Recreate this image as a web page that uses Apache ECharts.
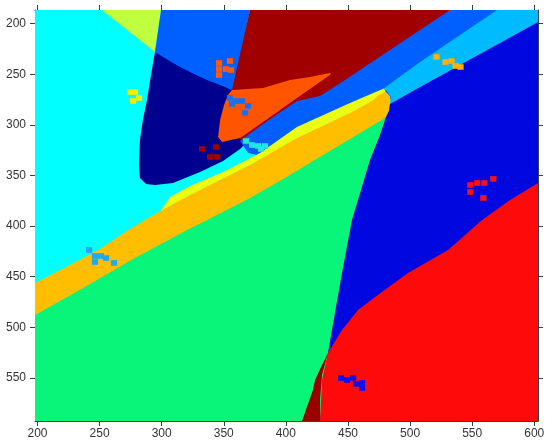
<!DOCTYPE html>
<html><head><meta charset="utf-8">
<script src="https://cdn.jsdelivr.net/npm/echarts@6/dist/echarts.min.js"></script>
<style>html,body{margin:0;padding:0;background:#fff}#c{width:550px;height:441px}</style>
</head><body><div id="c"></div>
<script>
// axis ranges and ticks
const xRange = [198, 603];
const yRange = [186.5, 592.5];
const xTicks = [200, 250, 300, 350, 400, 450, 500, 550, 600];
const yTicks = [200, 250, 300, 350, 400, 450, 500, 550];

// class regions (polygon vertices in data units), in drawing order
const regionCyan = [[198,186.5],[603,186.5],[603,592.5],[198,592.5]];
const regionYellowGreen = [[251.9,186.5],[299.5,186.5],[294.6,228.0]];
const regionTopBlue = [[299.5,186.5],[371.1,186.5],[357.4,267.5],[330.9,275.4],[294.6,235.9],[294.6,228.0]];
const regionDarkRed = [[371.1,186.5],[532.2,186.5],[475.0,255.0],[411.4,295.0],[365.5,316.0],[348.6,315.9],[356.6,265.5]];
const regionNavy = [[294.6,228.0],[305.1,235.9],[314.8,242.8],[326.0,249.7],[336.5,255.6],[347.0,260.6],[356.6,265.5],[361.5,270.5],[355.0,305.0],[363.1,313.9],[367.9,317.9],[363.1,323.8],[349.4,335.7],[330.9,346.5],[309.1,357.4],[294.6,359.4],[287.4,358.4],[282.5,352.4],[281.7,339.6],[282.5,314.9],[284.9,295.2],[288.2,275.4],[291.4,250.7]];
const regionOrange = [[356.6,265.5],[381.6,263.5],[403.3,255.6],[419.4,252.7],[435.5,248.7],[436.3,249.7],[435.5,250.7],[408.9,273.4],[381.6,297.1],[363.1,312.9],[348.6,316.9],[345.4,311.9],[347.0,295.2],[350.2,280.3],[353.4,270.5]];
const regionBlueBand = [[532.2,186.5],[580.5,186.5],[483.8,275.4],[411.4,310.0],[380.8,330.7],[369.5,327.8],[363.1,315.9],[381.6,299.1],[408.9,276.4],[427.5,271.5],[447.6,255.6],[483.8,226.0]];
const regionYellow = [[479.8,263.5],[451.6,278.4],[408.9,302.1],[379.2,327.8],[349.4,346.5],[322.8,360.4],[306.7,371.2],[298.6,386.0],[310.7,389.0],[483.8,305.0]];
const regionAmber = [[198,456.2],[226.2,438.4],[250.3,422.6],[274.5,402.8],[290.6,391.0],[310.7,377.1],[330.9,364.3],[371.1,339.6],[408.9,312.9],[451.6,288.2],[469.3,276.4],[475.8,269.5],[480.6,267.5],[483.8,271.5],[484.6,278.4],[483.0,286.3],[480.6,292.2],[480.6,375],[198,520]];
const regionGreen = [[198,487.8],[236.7,461.1],[276.9,432.5],[320.4,403.8],[336.5,394.0],[371.1,372.2],[403.3,349.5],[421.8,335.7],[451.6,313.9],[475.8,296.1],[480.6,292.2],[491.9,285.3],[491.9,592.5],[198,592.5]];
const regionLightBlue = [[570.0,186.5],[603,186.5],[603,198.4],[508.0,262.6],[483.8,279.4],[484.6,272.4],[481.4,266.5],[478.2,264.5],[508.0,237.9]];
const regionBrightBlue = [[603,198.4],[508.0,262.6],[483.8,279.4],[483.0,286.3],[480.6,292.2],[475.8,310.0],[467.7,334.7],[460.5,364.3],[453.2,394.0],[445.2,446.3],[439.5,485.8],[433.9,525.3],[427.5,592.5],[603,592.5]];
const regionRed = [[603,357.4],[580.5,374.2],[558.0,394.0],[530.6,423.6],[498.3,446.3],[471.8,470.0],[458.1,482.9],[445.2,502.6],[433.9,525.3],[429.1,551.9],[427.5,592.5],[603,592.5]];
const regionDarkRedSliver = [[433.9,525.3],[429.1,547.0],[427.5,571.7],[427.5,592.5],[413.0,592.5],[421.8,561.9],[423.5,551.9],[429.1,537.2]];

// training samples (cell centres, data units)
const ptsOrangeRed = [[346.2,238.9],[346.2,244.8],[346.2,250.7],[355.0,236.9],[351.8,244.8],[355.8,245.8]];
const ptsYellow = [[274.5,267.5],[278.5,267.5],[281.7,273.4],[276.9,276.4]];
const ptsBlue = [[355.0,273.4],[359.8,276.4],[364.7,276.4],[369.5,281.3],[367.1,288.2],[356.6,279.3]];
const ptsDarkRed = [[332.5,323.8],[343.9,321.8],[339.0,331.7],[344.7,331.7]];
const ptsCyan = [[367.9,315.9],[372.8,319.9],[377.6,320.8],[383.2,320.8],[380.0,323.8]];
const ptsAmber = [[521.3,232.9],[528.5,237.9],[533.4,236.9],[536.6,241.8],[540.6,242.8]];
const ptsRed = [[548.5,359.4],[548.5,366.3],[554.1,357.4],[559.8,357.4],[567.0,353.4],[559.0,372.2]];
const ptsBrightBlue = [[444.4,550.0],[449.2,552.0],[454.1,550.0],[456.5,555.9],[461.3,559.9],[461.3,554.9]];
const ptsLightBlue = [[241.5,423.6],[246.3,429.5],[246.3,435.4],[251.1,429.5],[255.2,431.5],[261.6,436.4]];

const regions = [
  [regionCyan, '#00FFFF'],
  [regionYellowGreen, '#BFFF40'],
  [regionTopBlue, '#0060FF'],
  [regionDarkRed, '#A00000'],
  [regionNavy, '#00008F'],
  [regionOrange, '#FF5500'],
  [regionBlueBand, '#0060FF'],
  [regionYellow, '#EAFF12'],
  [regionAmber, '#FFBF00'],
  [regionGreen, '#08F57A'],
  [regionLightBlue, '#00BBFF'],
  [regionBrightBlue, '#0008E0'],
  [regionRed, '#FF0A0A'],
  [regionDarkRedSliver, '#9A0000']
];
const samples = [
  [ptsOrangeRed, '#FF5A10'],
  [ptsYellow, '#F0F000'],
  [ptsBlue, '#1E6EF0'],
  [ptsDarkRed, '#A00000'],
  [ptsCyan, '#20E6E6'],
  [ptsAmber, '#FFB000'],
  [ptsRed, '#FF1010'],
  [ptsBrightBlue, '#1010E6'],
  [ptsLightBlue, '#20A8F0']
];

const series = [];
regions.forEach(([poly, color]) => {
  series.push({
    type: 'custom', silent: true, clip: true, animation: false,
    data: [0],
    renderItem: function (params, api) {
      return { type: 'polygon', shape: { points: poly.map(p => api.coord(p)) }, style: { fill: color } };
    }
  });
});
samples.forEach(([pts, color]) => {
  series.push({
    type: 'custom', silent: true, clip: true, animation: false,
    data: pts, encode: { x: 0, y: 1 },
    renderItem: function (params, api) {
      const c = api.coord([api.value(0), api.value(1)]);
      const s = api.size([5, 5.5]);
      return { type: 'rect', shape: { x: c[0] - s[0] / 2, y: c[1] - s[1] / 2, width: s[0], height: s[1] }, style: { fill: color } };
    }
  });
});

const axisLine = { show: true, lineStyle: { color: '#2f4444', width: 1 } };
const label = { color: '#333', fontSize: 12, fontFamily: 'Liberation Sans, Arial, sans-serif' };
const chart = echarts.init(document.getElementById('c'), null, { renderer: 'canvas' });
chart.setOption({
  animation: false,
  backgroundColor: '#fff',
  grid: { left: 35, right: 12, top: 10, bottom: 20 },
  xAxis: [
    { type: 'value', min: xRange[0], max: xRange[1], position: 'bottom', axisLine,
      axisTick: { show: true, length: 5, customValues: xTicks, lineStyle: { color: '#2f4444' } },
      axisLabel: Object.assign({ customValues: xTicks, margin: 7 }, label), splitLine: { show: false } },
    { type: 'value', min: xRange[0], max: xRange[1], position: 'top', axisLine,
      axisTick: { show: true, length: 5, customValues: xTicks, lineStyle: { color: '#2f4444' } },
      axisLabel: { show: false }, splitLine: { show: false } }
  ],
  yAxis: [
    { type: 'value', min: yRange[0], max: yRange[1], inverse: true, position: 'left', axisLine,
      axisTick: { show: true, length: 5, customValues: yTicks, lineStyle: { color: '#2f4444' } },
      axisLabel: Object.assign({ customValues: yTicks, margin: 9 }, label), splitLine: { show: false } },
    { type: 'value', min: yRange[0], max: yRange[1], inverse: true, position: 'right', axisLine,
      axisTick: { show: true, length: 5, customValues: yTicks, lineStyle: { color: '#2f4444' } },
      axisLabel: { show: false }, splitLine: { show: false } }
  ],
  series: series
});
</script></body></html>
